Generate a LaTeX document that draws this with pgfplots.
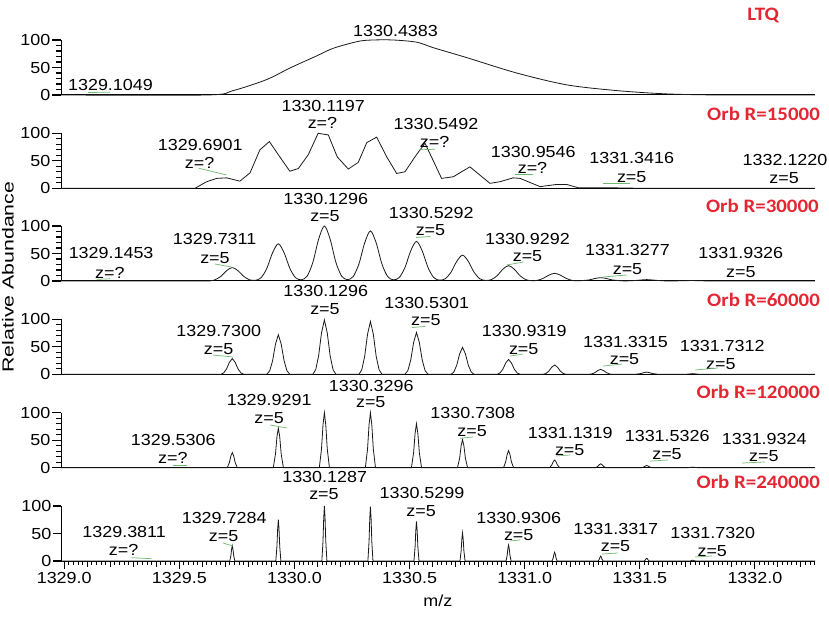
\documentclass[border=0pt]{standalone}
\usepackage{fontspec}
\setmainfont{Liberation Sans}[FakeStretch=1.12]
\newfontfamily\titlefont{Carlito}[FakeStretch=1.1]
\usepackage{graphicx}
\usepackage{pgfplots}
\pgfplotsset{compat=1.18}
\definecolor{orbred}{RGB}{228,38,50}
\definecolor{lblgreen}{RGB}{110,185,110}
\newcommand\yminorticks{%
  \pgfplotsinvokeforeach{10,20,30,40,60,70,80,90}{%
    \draw[black, line width=1.1pt] (axis cs:1328.986,##1) -- ++(-5pt,0pt);}}
\newcommand\xminorticks{%
  \pgfplotsinvokeforeach{0,...,163}{%
    \draw[black, line width=1pt] (axis cs:{1329+0.02*##1},0) -- ++(0pt,-3.5pt);}%
  \pgfplotsinvokeforeach{0,...,32}{%
    \draw[black, line width=1.1pt] (axis cs:{1329+0.1*##1},0) -- ++(0pt,-5.5pt);}}
\pgfplotsset{
  panel/.style={
    scale only axis, width=754pt, height=55pt,
    xmin=1328.986, xmax=1332.261, ymin=0, ymax=100,
    axis x line*=bottom, axis y line*=left,
    clip=false, no markers,
    ytick={0,50,100},
    tick align=outside,
    major tick length=9pt,
    xtick=\empty,
    axis line style={black, line width=1pt},
    tick style={black, line width=1.1pt},
    tick label style={font=\fontsize{16}{18}\selectfont},
    /pgf/number format/assume math mode=true,
    yticklabel style={inner sep=1.5pt},
    execute at end axis={\yminorticks},
  },
  spec/.style={black!90, line width=0.8pt, mark=none},
}
\tikzset{
  lbl/.style={font=\fontsize{16}{18}\selectfont, inner sep=0pt, anchor=center},
  ttl/.style={font={\fontsize{19}{22}\titlefont\bfseries}, text=orbred, anchor=east, inner sep=0pt},
  grn/.style={lblgreen, line width=0.7pt},
}
\begin{document}
\begin{tikzpicture}[x=1pt,y=1pt]
\useasboundingbox (0,0) rectangle (829,618);

% ---------------- Panel 1: LTQ ----------------
\begin{axis}[panel, at={(61pt,523pt)}, anchor=south west]
\addplot[spec, smooth, tension=0.5] coordinates {
(1328.986,0) (1329.62,0) (1329.734,8) (1329.879,28) (1329.98,49) (1330.096,71)
(1330.169,85) (1330.277,97.5) (1330.342,100) (1330.429,100) (1330.531,96)
(1330.603,86) (1330.748,68) (1330.965,40) (1331.182,18.5) (1331.40,8)
(1331.617,2) (1331.85,0) (1332.261,0)};
\node[lbl] at (axis cs:1329.201,17.6) {1329.1049};
\draw[grn] (axis cs:1329.103,4.5) -- (axis cs:1329.199,5);
\node[lbl] at (axis cs:1330.439,115.8) {1330.4383};
\node[ttl] at (axis cs:1332.105,145.5) {LTQ};
\end{axis}

% ---------------- Panel 2: R=15000 ----------------
\begin{axis}[panel, at={(61pt,429.7pt)}, anchor=south west]
\addplot[spec] coordinates {
(1328.986,0) (1329.568,0) (1329.619,12) (1329.662,18) (1329.705,19) (1329.763,13)
(1329.807,28) (1329.850,70) (1329.891,85) (1329.930,61) (1329.980,31) (1330.017,36)
(1330.060,61) (1330.103,100) (1330.147,97) (1330.186,57) (1330.234,35) (1330.277,47)
(1330.314,83) (1330.357,93) (1330.401,57) (1330.444,27) (1330.480,30) (1330.523,57)
(1330.567,82) (1330.639,18) (1330.690,21) (1330.762,39) (1330.849,9) (1330.893,12)
(1330.950,19) (1330.980,18) (1331.067,3) (1331.139,7) (1331.182,7) (1331.233,1)
(1331.356,1) (1331.443,0.5) (1331.50,0) (1332.261,0)};
\node[lbl] at (axis cs:1329.5908,78.7) {1329.6901};
\node[lbl] at (axis cs:1329.588,45.5) {z=?};
\draw[grn] (axis cs:1329.585,36.4) -- (axis cs:1329.7055,24.2);
\node[lbl] at (axis cs:1330.125,150.5) {1330.1197};
\node[lbl] at (axis cs:1330.1216,118.2) {z=?};
\node[lbl] at (axis cs:1330.6147,116.9) {1330.5492};
\node[lbl] at (axis cs:1330.609,84.7) {z=?};
\draw[grn] (axis cs:1330.545,70) -- (axis cs:1330.61,71);
\node[lbl] at (axis cs:1331.0374,66.5) {1330.9546};
\node[lbl] at (axis cs:1331.034,36.4) {z=?};
\draw[grn] (axis cs:1330.958,26) -- (axis cs:1331.036,26);
\node[lbl] at (axis cs:1331.4648,54.5) {1331.3416};
\node[lbl] at (axis cs:1331.4648,21.1) {z=5};
\draw[grn] (axis cs:1331.340,9) -- (axis cs:1331.457,9);
\node[lbl] at (axis cs:1332.1308,51.5) {1332.1220};
\node[lbl] at (axis cs:1332.1264,18.2) {z=5};
\node[ttl] at (axis cs:1332.283,134.5) {Orb R=15000};
\end{axis}

% ---------------- Panel 3: R=30000 ----------------
\begin{axis}[panel, at={(61pt,337pt)}, anchor=south west]
\addplot[spec, smooth, tension=0.5] coordinates {
(1328.986,0) (1329.58,0) (1329.63,0.3) (1329.655,2.2) (1329.68,8.3) (1329.705,18.6)
(1329.73,24.5) (1329.755,18.6) (1329.78,8.3) (1329.805,2.2) (1329.83,1.2)
(1329.855,5.9) (1329.88,23) (1329.905,51.4) (1329.93,67.6) (1329.955,51.4)
(1329.98,23) (1330.005,5.9) (1330.03,2.2) (1330.055,8.8) (1330.08,34) (1330.105,76)
(1330.13,100) (1330.155,76) (1330.18,34) (1330.205,8.8) (1330.23,2.5) (1330.255,8.0)
(1330.28,30.9) (1330.305,69.2) (1330.33,91) (1330.355,69.2) (1330.38,30.9)
(1330.405,8.0) (1330.43,2.1) (1330.455,6.3) (1330.48,24.5) (1330.505,54.7)
(1330.53,72) (1330.555,54.7) (1330.58,24.5) (1330.605,6.3) (1330.63,1.5)
(1330.655,4.1) (1330.68,16) (1330.705,35.7) (1330.73,47) (1330.755,35.7)
(1330.78,16) (1330.805,4.1) (1330.83,1.0) (1330.855,2.5) (1330.88,9.5)
(1330.905,21.3) (1330.93,28) (1330.955,21.3) (1330.98,9.5) (1331.005,2.5)
(1331.03,0.5) (1331.055,1.2) (1331.08,4.8) (1331.105,10.6) (1331.13,14)
(1331.155,10.6) (1331.18,4.8) (1331.205,1.2) (1331.23,0.3) (1331.28,2)
(1331.305,4.6) (1331.33,6) (1331.355,4.6) (1331.38,2) (1331.43,0.2) (1331.48,0.9)
(1331.53,2.5) (1331.58,0.9) (1331.63,0) (1331.73,0.8) (1331.83,0) (1332.261,0)};
\node[lbl] at (axis cs:1329.2037,50.5) {1329.1453};
\node[lbl] at (axis cs:1329.1985,14.5) {z=?};
\draw[grn] (axis cs:1329.141,3) -- (axis cs:1329.199,4);
\node[lbl] at (axis cs:1329.6533,75.5) {1329.7311};
\node[lbl] at (axis cs:1329.6547,41.8) {z=5};
\draw[grn] (axis cs:1329.6547,30.9) -- (axis cs:1329.733,24.9);
\node[lbl] at (axis cs:1330.136,149.5) {1330.1296};
\node[lbl] at (axis cs:1330.1325,117.3) {z=5};
\node[lbl] at (axis cs:1330.5943,123.1) {1330.5292};
\node[lbl] at (axis cs:1330.5908,91.8) {z=5};
\draw[grn] (axis cs:1330.529,79) -- (axis cs:1330.59,81);
\node[lbl] at (axis cs:1331.0122,76.7) {1330.9292};
\node[lbl] at (axis cs:1331.0122,44.9) {z=5};
\draw[grn] (axis cs:1330.922,29.1) -- (axis cs:1330.994,34.5);
\node[lbl] at (axis cs:1331.4466,55.5) {1331.3277};
\node[lbl] at (axis cs:1331.4466,22.4) {z=5};
\draw[grn] (axis cs:1331.340,7.3) -- (axis cs:1331.444,10.9);
\node[lbl] at (axis cs:1331.9388,51.8) {1331.9326};
\node[lbl] at (axis cs:1331.9388,16.9) {z=5};
\node[ttl] at (axis cs:1332.278,136.9) {Orb R=30000};
\end{axis}

% ---------------- Panel 4: R=60000 ----------------
\begin{axis}[panel, at={(61pt,243.7pt)}, anchor=south west]
\addplot[spec] coordinates {
(1328.986,0) (1329.68,0) (1329.6925,2.5) (1329.705,9.7) (1329.7175,21.7) (1329.73,28.6)
(1329.7425,21.7) (1329.755,9.7) (1329.7675,2.5) (1329.78,0)
(1329.88,0) (1329.8925,6.3) (1329.905,24.5) (1329.9175,54.7) (1329.93,72)
(1329.9425,54.7) (1329.955,24.5) (1329.9675,6.3) (1329.98,0)
(1330.08,0) (1330.0925,8.7) (1330.105,33.7) (1330.1175,75.2) (1330.13,99)
(1330.1425,75.2) (1330.155,33.7) (1330.1675,8.7) (1330.18,0)
(1330.28,0) (1330.2925,8.4) (1330.305,32.6) (1330.3175,73) (1330.33,96)
(1330.3425,73) (1330.355,32.6) (1330.3675,8.4) (1330.38,0)
(1330.48,0) (1330.4925,6.7) (1330.505,25.8) (1330.5175,57.8) (1330.53,76)
(1330.5425,57.8) (1330.555,25.8) (1330.5675,6.7) (1330.58,0)
(1330.68,0) (1330.6925,4.3) (1330.705,16.7) (1330.7175,37.2) (1330.73,49)
(1330.7425,37.2) (1330.755,16.7) (1330.7675,4.3) (1330.78,0)
(1330.88,0) (1330.8925,2.4) (1330.905,9.2) (1330.9175,20.5) (1330.93,27)
(1330.9425,20.5) (1330.955,9.2) (1330.9675,2.4) (1330.98,0)
(1331.08,0) (1331.0925,1.5) (1331.105,5.8) (1331.1175,12.9) (1331.13,17)
(1331.1425,12.9) (1331.155,5.8) (1331.1675,1.5) (1331.18,0)
(1331.28,0) (1331.2925,0.8) (1331.305,3.1) (1331.3175,6.8) (1331.33,9)
(1331.3425,6.8) (1331.355,3.1) (1331.3675,0.8) (1331.38,0)
(1331.48,0) (1331.505,1.4) (1331.5175,3) (1331.53,4) (1331.5425,3) (1331.555,1.4) (1331.58,0)
(1331.70,0) (1331.73,1.2) (1331.76,0) (1332.261,0)};
\node[lbl] at (axis cs:1329.6712,79.1) {1329.7300};
\node[lbl] at (axis cs:1329.6707,46.5) {z=5};
\draw[grn] (axis cs:1329.646,35) -- (axis cs:1329.733,31.5);
\node[lbl] at (axis cs:1330.136,151.8) {1330.1296};
\node[lbl] at (axis cs:1330.1325,119.3) {z=5};
\node[lbl] at (axis cs:1330.5743,129.6) {1330.5301};
\node[lbl] at (axis cs:1330.5704,97.8) {z=5};
\draw[grn] (axis cs:1330.51,85) -- (axis cs:1330.567,87);
\node[lbl] at (axis cs:1330.9978,78.4) {1330.9319};
\node[lbl] at (axis cs:1330.9957,45.6) {z=5};
\draw[grn] (axis cs:1330.936,33) -- (axis cs:1330.993,36.9);
\node[lbl] at (axis cs:1331.4379,58.4) {1331.3315};
\node[lbl] at (axis cs:1331.4336,27.5) {z=5};
\draw[grn] (axis cs:1331.340,15) -- (axis cs:1331.423,18.7);
\node[lbl] at (axis cs:1331.858,51.1) {1331.7312};
\node[lbl] at (axis cs:1331.8519,18.4) {z=5};
\draw[grn] (axis cs:1331.74,7.8) -- (axis cs:1331.84,11.5);
\node[ttl] at (axis cs:1332.283,135.1) {Orb R=60000};
\node[lbl, rotate=90] at (axis cs:1328.7554,176.9) {\scalebox{1.19}[1]{Relative Abundance}};
\end{axis}

% ---------------- Panel 5: R=120000 ----------------
\begin{axis}[panel, at={(61pt,150.3pt)}, anchor=south west]
\addplot[spec] coordinates {
(1328.986,0) (1329.708,0) (1329.7175,9.4) (1329.724,21.5) (1329.73,27.6) (1329.736,21.5) (1329.7425,9.4) (1329.752,0)
(1329.908,0) (1329.9175,24.5) (1329.924,56.2) (1329.93,72) (1329.936,56.2) (1329.9425,24.5) (1329.952,0)
(1330.108,0) (1330.1175,34) (1330.124,78) (1330.13,100) (1330.136,78) (1330.1425,34) (1330.152,0)
(1330.308,0) (1330.3175,34) (1330.324,78) (1330.33,100) (1330.336,78) (1330.3425,34) (1330.352,0)
(1330.508,0) (1330.5175,27.2) (1330.524,62.4) (1330.53,80) (1330.536,62.4) (1330.5425,27.2) (1330.552,0)
(1330.708,0) (1330.7175,17.3) (1330.724,39.8) (1330.73,51) (1330.736,39.8) (1330.7425,17.3) (1330.752,0)
(1330.908,0) (1330.9175,10.5) (1330.924,24.2) (1330.93,31) (1330.936,24.2) (1330.9425,10.5) (1330.952,0)
(1331.108,0) (1331.1175,4.8) (1331.124,10.9) (1331.13,14) (1331.136,10.9) (1331.1425,4.8) (1331.152,0)
(1331.308,0) (1331.3175,2.4) (1331.324,5.5) (1331.33,7) (1331.336,5.5) (1331.3425,2.4) (1331.352,0)
(1331.508,0) (1331.5175,1.4) (1331.524,3.1) (1331.53,4) (1331.536,3.1) (1331.5425,1.4) (1331.552,0)
(1331.708,0) (1331.73,1) (1331.752,0) (1332.261,0)};
\node[lbl] at (axis cs:1329.4735,50.9) {1329.5306};
\node[lbl] at (axis cs:1329.4722,18.5) {z=?};
\draw[grn] (axis cs:1329.472,4.9) -- (axis cs:1329.533,4.9);
\node[lbl] at (axis cs:1329.8901,122.2) {1329.9291};
\node[lbl] at (axis cs:1329.8901,89.8) {z=5};
\draw[grn] (axis cs:1329.894,77.6) -- (axis cs:1329.968,72.2);
\node[lbl] at (axis cs:1330.3336,148.9) {1330.3296};
\node[lbl] at (axis cs:1330.3314,118.5) {z=5};
\node[lbl] at (axis cs:1330.7746,99.8) {1330.7308};
\node[lbl] at (axis cs:1330.772,67.1) {z=5};
\draw[grn] (axis cs:1330.719,53.5) -- (axis cs:1330.775,55.8);
\node[lbl] at (axis cs:1331.1981,63.5) {1331.1319};
\node[lbl] at (axis cs:1331.1955,31.3) {z=5};
\draw[grn] (axis cs:1331.136,21.3) -- (axis cs:1331.197,23.1);
\node[lbl] at (axis cs:1331.619,57.1) {1331.5326};
\node[lbl] at (axis cs:1331.6181,24.5) {z=5};
\draw[grn] (axis cs:1331.544,12) -- (axis cs:1331.622,14);
\node[lbl] at (axis cs:1332.0404,52.5) {1331.9324};
\node[lbl] at (axis cs:1332.0387,20.4) {z=5};
\draw[grn] (axis cs:1331.944,8.5) -- (axis cs:1332.043,10.4);
\node[ttl] at (axis cs:1332.283,138.2) {Orb R=120000};
\end{axis}

% ---------------- Panel 6: R=240000 ----------------
\begin{axis}[panel, at={(61pt,57pt)}, anchor=south west,
  xtick={1329,1329.5,1330,1330.5,1331,1331.5,1332},
  xticklabels={1329.0,1329.5,1330.0,1330.5,1331.0,1331.5,1332.0},
  major tick length=8pt,
  execute at end axis={\xminorticks},
  ]
\addplot[spec] coordinates {
(1328.986,0) (1329.719,0) (1329.724,10) (1329.727,21.3) (1329.73,27.7) (1329.733,21.3) (1329.736,10) (1329.741,0)
(1329.919,0) (1329.924,27) (1329.927,57.8) (1329.93,75) (1329.933,57.8) (1329.936,27) (1329.941,0)
(1330.119,0) (1330.124,36) (1330.127,77) (1330.13,100) (1330.133,77) (1330.136,36) (1330.141,0)
(1330.319,0) (1330.324,35.6) (1330.327,76.2) (1330.33,99) (1330.333,76.2) (1330.336,35.6) (1330.341,0)
(1330.519,0) (1330.524,25.9) (1330.527,55.4) (1330.53,72) (1330.533,55.4) (1330.536,25.9) (1330.541,0)
(1330.719,0) (1330.724,18.4) (1330.727,39.3) (1330.73,51) (1330.733,39.3) (1330.736,18.4) (1330.741,0)
(1330.919,0) (1330.924,10.4) (1330.927,22.3) (1330.93,29) (1330.933,22.3) (1330.936,10.4) (1330.941,0)
(1331.119,0) (1331.124,5.8) (1331.127,12.3) (1331.13,16) (1331.133,12.3) (1331.136,5.8) (1331.141,0)
(1331.319,0) (1331.324,3.2) (1331.327,6.9) (1331.33,9) (1331.333,6.9) (1331.336,3.2) (1331.341,0)
(1331.519,0) (1331.524,1.8) (1331.527,3.9) (1331.53,5) (1331.533,3.9) (1331.536,1.8) (1331.541,0)
(1331.719,0) (1331.727,1.2) (1331.73,1.5) (1331.733,1.2) (1331.741,0) (1332.261,0)};
\node[lbl] at (axis cs:1329.2602,52.4) {1329.3811};
\node[lbl] at (axis cs:1329.258,20) {z=?};
\draw[grn] (axis cs:1329.2928,6) -- (axis cs:1329.3797,4.2);
\node[lbl] at (axis cs:1329.6946,78.5) {1329.7284};
\node[lbl] at (axis cs:1329.6924,44.5) {z=5};
\draw[grn] (axis cs:1329.689,32.7) -- (axis cs:1329.733,27.3);
\node[lbl] at (axis cs:1330.1312,153.3) {1330.1287};
\node[lbl] at (axis cs:1330.1282,120.9) {z=5};
\node[lbl] at (axis cs:1330.5539,124) {1330.5299};
\node[lbl] at (axis cs:1330.5504,91.3) {z=5};
\node[lbl] at (axis cs:1330.974,79.1) {1330.9306};
\node[lbl] at (axis cs:1330.974,47.6) {z=5};
\draw[grn] (axis cs:1330.936,36.4) -- (axis cs:1330.98,38.2);
\node[lbl] at (axis cs:1331.3958,58.5) {1331.3317};
\node[lbl] at (axis cs:1331.3945,26.4) {z=5};
\draw[grn] (axis cs:1331.336,12.7) -- (axis cs:1331.405,14.5);
\node[lbl] at (axis cs:1331.8172,51.8) {1331.7320};
\node[lbl] at (axis cs:1331.8146,18.5) {z=5};
\draw[grn] (axis cs:1331.74,7.3) -- (axis cs:1331.813,9.1);
\node[ttl] at (axis cs:1332.283,144.2) {Orb R=240000};
\node[lbl] at (axis cs:1330.623,-72.7) {m/z};
\end{axis}
\end{tikzpicture}
\end{document}
